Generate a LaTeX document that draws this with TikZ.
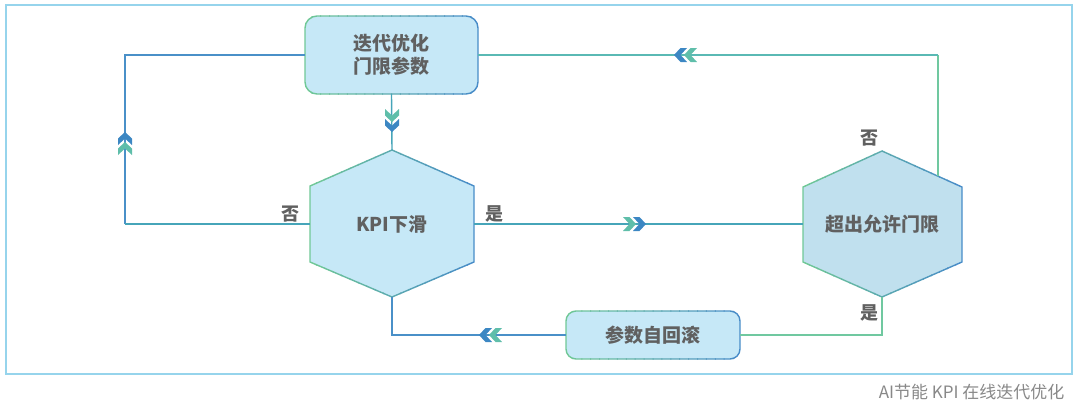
\documentclass[tikz,border=0pt]{standalone}
\usepackage{fontspec}
\setmainfont{Noto Sans CJK SC}
\definecolor{edgeg}{RGB}{112,200,150}
\definecolor{edgeb}{RGB}{72,140,200}
\definecolor{boxfill}{RGB}{198,232,247}
\definecolor{hexfillR}{RGB}{192,224,238}
\definecolor{txtgray}{RGB}{96,96,96}
\definecolor{capgray}{RGB}{136,136,136}
\definecolor{framec}{RGB}{150,212,236}
\definecolor{chevg}{RGB}{95,190,170}
\definecolor{chevb}{RGB}{60,135,195}
\definecolor{lineb}{RGB}{74,144,200}
\definecolor{linet}{RGB}{70,165,185}
\definecolor{lineg}{RGB}{112,200,160}
\definecolor{linetg}{RGB}{90,185,180}
\newcommand{\gradborder}[3]{%
  \foreach \i in {0,...,19} {%
    \pgfmathsetmacro\pp{100-\i*100/19}%
    \begin{scope}
      \clip ({#2+(\i)*(#3-#2)/20-0.5},-10) rectangle ({#2+(\i+1)*(#3-#2)/20+0.5},420);
      \draw[line width=1.4pt, line join=round, edgeg!\pp!edgeb] #1;
    \end{scope}
  }%
}
\begin{document}
\begin{tikzpicture}[x=1pt,y=-1pt,
  lbl/.style={font=\fontsize{19}{23}\selectfont\bfseries, text=txtgray, align=center},
  yn/.style={font=\fontsize{18}{20}\selectfont\bfseries, text=txtgray},
  conn/.style={line width=1.4pt},
  chevpic/.pic={
    \fill[chevg] (-13,-7)--(-6.5,-7)--(0,0)--(-6.5,7)--(-13,7)--(-6.5,0)--cycle;
    \fill[chevb] (-3,-7)--(3.5,-7)--(10,0)--(3.5,7)--(-3,7)--(3.5,0)--cycle;
  }
]
\useasboundingbox (0,0) rectangle (1080,408);
% outer frame
\draw[framec, line width=1.3pt] (6,5) rectangle (1072,374);
\node[font=\fontsize{17}{20}\selectfont, text=capgray, anchor=east] (cap) at (1068,392) {AI节能 KPI 在线迭代优化};

% top box
\fill[boxfill, rounded corners=12pt] (305,16) rectangle (478,94);
\gradborder{[rounded corners=12pt] (305,16) rectangle (478,94)}{303}{480}
\node[lbl, minimum width=173pt, minimum height=78pt] (top) at (391.5,55) {迭代优化\\门限参数};

% bottom box
\fill[boxfill, rounded corners=10pt] (566,311) rectangle (740,359);
\gradborder{[rounded corners=10pt] (566,311) rectangle (740,359)}{564}{742}
\node[lbl, minimum width=174pt, minimum height=48pt] (roll) at (653,335) {参数自回滚};

% left hexagon
\coordinate (kT) at (392,150);
\coordinate (kUR) at (474,186);
\coordinate (kLR) at (474,262);
\coordinate (kB) at (392,297);
\coordinate (kLL) at (310,262);
\coordinate (kUL) at (310,186);
\coordinate (kW) at (310,224);
\coordinate (kE) at (474,224);
\fill[boxfill] (kT)--(kUR)--(kLR)--(kB)--(kLL)--(kUL)--cycle;
\gradborder{(kT)--(kUR)--(kLR)--(kB)--(kLL)--(kUL)--cycle}{308}{476}
\node[lbl] (kpi) at (392,224) {KPI下滑};

% right hexagon
\coordinate (rT) at (882,151);
\coordinate (rUR) at (962,187);
\coordinate (rLR) at (962,262);
\coordinate (rB) at (882,297);
\coordinate (rLL) at (803,262);
\coordinate (rUL) at (803,187);
\coordinate (rW) at (803,224);
\coordinate (rN) at (938,176);
\fill[hexfillR] (rT)--(rUR)--(rLR)--(rB)--(rLL)--(rUL)--cycle;
\gradborder{(rT)--(rUR)--(rLR)--(rB)--(rLL)--(rUL)--cycle}{801}{964}
\node[lbl] (exceed) at (882,224) {超出允许门限};

% connectors
\coordinate (c1) at (125,224);
\coordinate (c2) at (125,55);
\draw[conn, lineb] (c1) -- (c2) -- (top.west);
\draw[conn, linet] (kW) -- (c1);
\draw[conn, linet] (top.south) -- (kT);
\draw[conn, linet] (kE) -- (rW);
\coordinate (c3) at (938,55);
\draw[conn, lineg] (rN) -- (c3);
\draw[conn, linetg] (c3) -- (top.east);
\coordinate (c4) at (882,335);
\draw[conn, lineg] (rB) -- (c4) -- (roll.east);
\coordinate (c5) at (392,335);
\draw[conn, lineb] (roll.west) -- (c5) -- (kB);

% chevrons
\pic[rotate=90] at (125,142) {chevpic};
\pic[rotate=-90] at (392,122) {chevpic};
\pic at (636,224) {chevpic};
\pic[rotate=180] at (684,55) {chevpic};
\pic[rotate=180] at (489,335) {chevpic};

% labels
\node[yn] (n1) at (290,214) {否};
\node[yn] (y1) at (494,214) {是};
\node[yn] (n2) at (869,138) {否};
\node[yn] (y2) at (869,313) {是};
\end{tikzpicture}
\end{document}
